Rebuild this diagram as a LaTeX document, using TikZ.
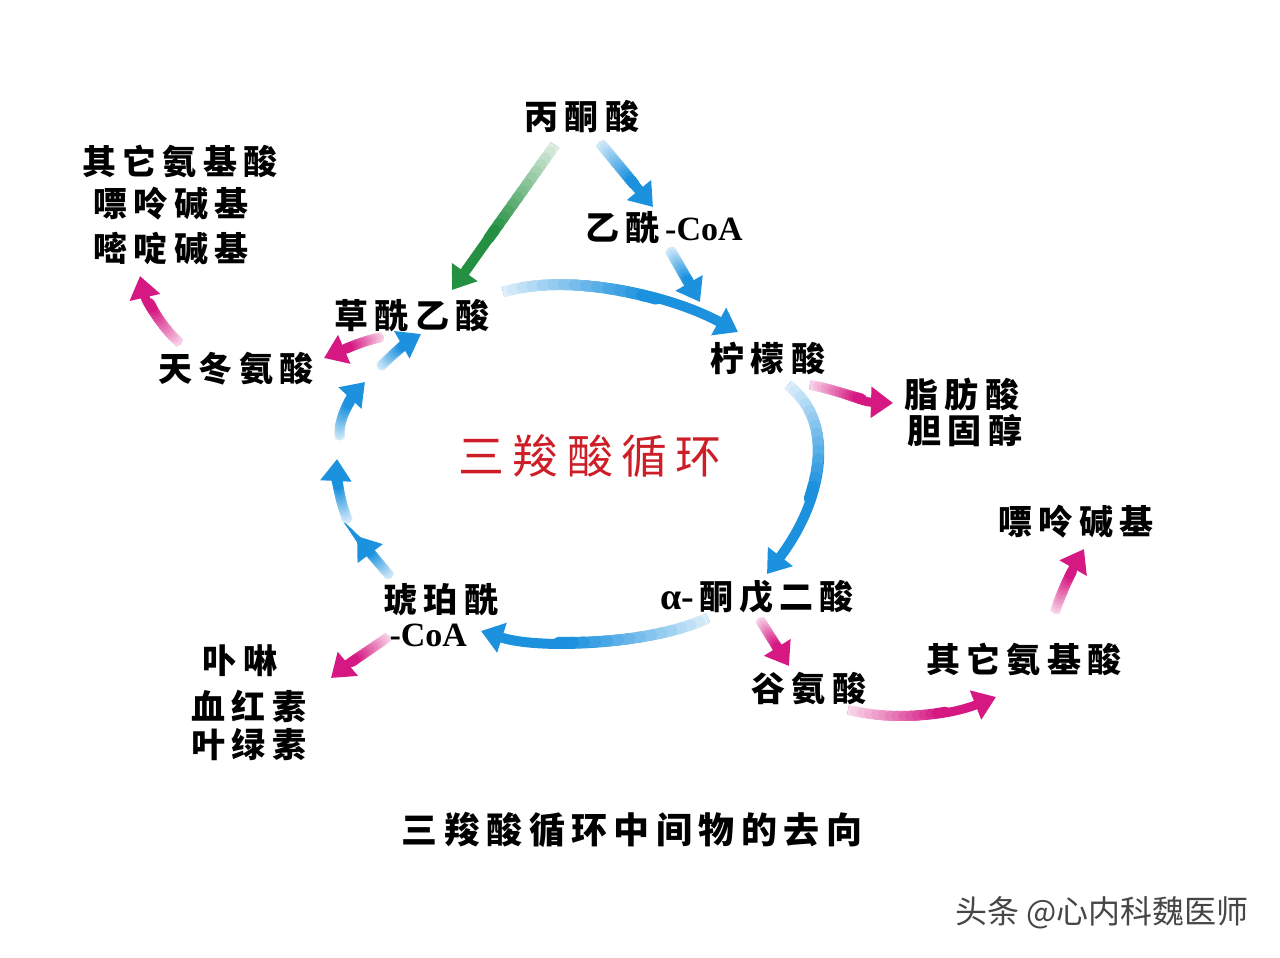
\documentclass[tikz,border=0pt]{standalone}
\usepackage{fontspec}
\setmainfont{Noto Sans CJK SC}
\newfontfamily\cjk{Noto Sans CJK SC}[LetterSpace=18]
\newfontfamily\cjkw{Noto Sans CJK SC}
\newfontfamily\lat{Liberation Serif}
\usetikzlibrary{arrows.meta,calc}
\definecolor{fblue}{RGB}{28,145,222}
\definecolor{fpink}{RGB}{214,24,130}
\definecolor{fgreen}{RGB}{35,145,65}
\definecolor{tred}{RGB}{205,30,40}
\definecolor{wm}{RGB}{70,70,70}
\newcommand\bezpt[2]{%
  \path ($(g0)!#1!(g1)$) coordinate (q1) ($(g1)!#1!(g2)$) coordinate (q2) ($(g2)!#1!(g3)$) coordinate (q3);
  \path ($(q1)!#1!(q2)$) coordinate (r1) ($(q2)!#1!(q3)$) coordinate (r2);
  \path ($(r1)!#1!(r2)$) coordinate (#2);}
% #1 tail, #2 #3 controls, #4 head, #5 colour, #6 width
\newcommand\garrow[6]{%
  \path (#1) coordinate (g0) (#2) coordinate (g1) (#3) coordinate (g2) (#4) coordinate (g3);
  \draw[flow, line width=#6, draw=#5] (g0) .. controls (g1) and (g2) .. (g3);
  \foreach \i in {0,...,13}{%
    \pgfmathsetmacro\ta{\i*0.045}%
    \pgfmathsetmacro\tb{\i*0.045+0.06}%
    \pgfmathtruncatemacro\pc{15+\i*85/13}%
    \bezpt{\ta}{pa}\bezpt{\tb}{pb}%
    \ifnum\i=0
      \draw[line cap=butt, line width=#6+0.5pt, draw=#5!\pc!white] (pa) -- (pb);
    \else
      \draw[line cap=round, line width=#6+0.5pt, draw=#5!\pc!white] (pa) -- (pb);
    \fi
  }}
\newcommand\sarrow[4]{\garrow{#1}{$(#1)!0.33!(#2)$}{$(#1)!0.67!(#2)$}{#2}{#3}{#4}}
\begin{document}
\begin{tikzpicture}[x=0.5pt,y=-0.5pt,
  flow/.style={line cap=butt, -{Triangle[width=15pt,length=11pt]}},
  lab/.style={font=\cjk\bfseries\fontsize{17}{20}\selectfont, inner sep=0pt, text=black},
  ttl/.style={font=\cjk\fontsize{23}{26}\selectfont, inner sep=0pt, text=tred},
  capt/.style={font=\cjk\bfseries\fontsize{18}{22}\selectfont, inner sep=0pt},
  wmark/.style={font=\cjkw\fontsize{16}{19}\selectfont, inner sep=0pt, text=wm}]
\useasboundingbox (0,0) rectangle (1280,958);
\fill[white] (0,0) rectangle (1280,958);

% labels
\node[lab] (pyr) at (582,117) {丙酮酸};
\node[lab] (acoa) at (664,228) {乙酰\,{\lat\bfseries -CoA}};
\node[lab] (oaa) at (412,316) {草酰乙酸};
\node[lab] (cit) at (768,358) {柠檬酸};
\node[lab] (asp) at (236,369) {天冬氨酸};
\node[lab] (aa1) at (180,161) {其它氨基酸};
\node[lab] (pur1) at (171,204) {嘌呤碱基};
\node[lab] (pyrim) at (171,249) {嘧啶碱基};
\node[lab] (fa) at (962,394) {脂肪酸};
\node[lab] (chol) at (965,431) {胆固醇};
\node[ttl] (tca) at (590,456) {三羧酸循环};
\node[lab] (pur2) at (1076,522) {嘌呤碱基};
\node[lab] (akg) at (757,597) {{\lat\bfseries\fontsize{19}{20}\selectfont α-}\,酮戊二酸};
\node[lab, align=left] (suc) at (441,615) {琥珀酰\\[-3pt]{\lat\bfseries\,-CoA}};
\node[lab] (aa2) at (1024,659) {其它氨基酸};
\node[lab] (glu) at (809,689) {谷氨酸};
\node[lab] (por) at (240,661) {卟啉};
\node[lab] (heme) at (249,706) {血红素};
\node[lab] (chl) at (249,745) {叶绿素};
\node[capt] (caption) at (632,830) {三羧酸循环中间物的去向};
\node[wmark] (wmk) at (1102,913) {头条 @心内科魏医师};

% arrow end points
\coordinate (a1t) at (555,145); \coordinate (a1h) at (452,290);
\coordinate (a2t) at (600,143); \coordinate (a2h) at (653,207);
\coordinate (a3t) at (670,250); \coordinate (a3h) at (700,302);
\coordinate (a4t) at (503,292); \coordinate (a4h) at (738,332);
\coordinate (a5t) at (788,385); \coordinate (a5h) at (767,574);
\coordinate (a6t) at (708,618); \coordinate (a6h) at (481,631);
\coordinate (l1t) at (390,576); \coordinate (l1h) at (357,536);
\coordinate (l2t) at (348,521); \coordinate (l2h) at (337,459);
\coordinate (l3t) at (340,438); \coordinate (l3h) at (365,382);
\coordinate (l4t) at (380,367); \coordinate (l4h) at (421,334);
\coordinate (p1t) at (382,337); \coordinate (p1h) at (324,358);
\coordinate (p2t) at (180,343); \coordinate (p2h) at (140,276);
\coordinate (p3t) at (810,385); \coordinate (p3h) at (893,403);
\coordinate (p4t) at (388,637); \coordinate (p4h) at (331,678);
\coordinate (p5t) at (760,620); \coordinate (p5h) at (789,666);
\coordinate (p6t) at (848,710); \coordinate (p6h) at (996,697);
\coordinate (p7t) at (1055,612); \coordinate (p7h) at (1084,549);

% main cycle and entries
\sarrow{a1t}{a1h}{fgreen}{5pt}
\sarrow{a2t}{a2h}{fblue}{5pt}
\sarrow{a3t}{a3h}{fblue}{5pt}
\garrow{a4t}{570,272}{670,295}{a4h}{fblue}{5pt}
\garrow{a5t}{840,425}{820,505}{a5h}{fblue}{5pt}
\garrow{a6t}{650,645}{540,650}{a6h}{fblue}{5pt}
\garrow{l1t}{378,562}{366,548}{l1h}{fblue}{4.5pt}
\garrow{l2t}{340,502}{336,480}{l2h}{fblue}{4.5pt}
\garrow{l3t}{337,420}{350,398}{l3h}{fblue}{4.5pt}
\garrow{l4t}{392,355}{405,343}{l4h}{fblue}{4.5pt}

% branches
\garrow{p1t}{362,341}{345,349}{p1h}{fpink}{4.5pt}
\garrow{p2t}{162,328}{146,302}{p2h}{fpink}{4.5pt}
\garrow{p3t}{840,390}{860,402}{p3h}{fpink}{4.5pt}
\garrow{p4t}{370,650}{350,662}{p4h}{fpink}{4.5pt}
\sarrow{p5t}{p5h}{fpink}{4.5pt}
\garrow{p6t}{900,722}{950,715}{p6h}{fpink}{4.5pt}
\garrow{p7t}{1062,590}{1072,570}{p7h}{fpink}{4.5pt}
\end{tikzpicture}
\end{document}
